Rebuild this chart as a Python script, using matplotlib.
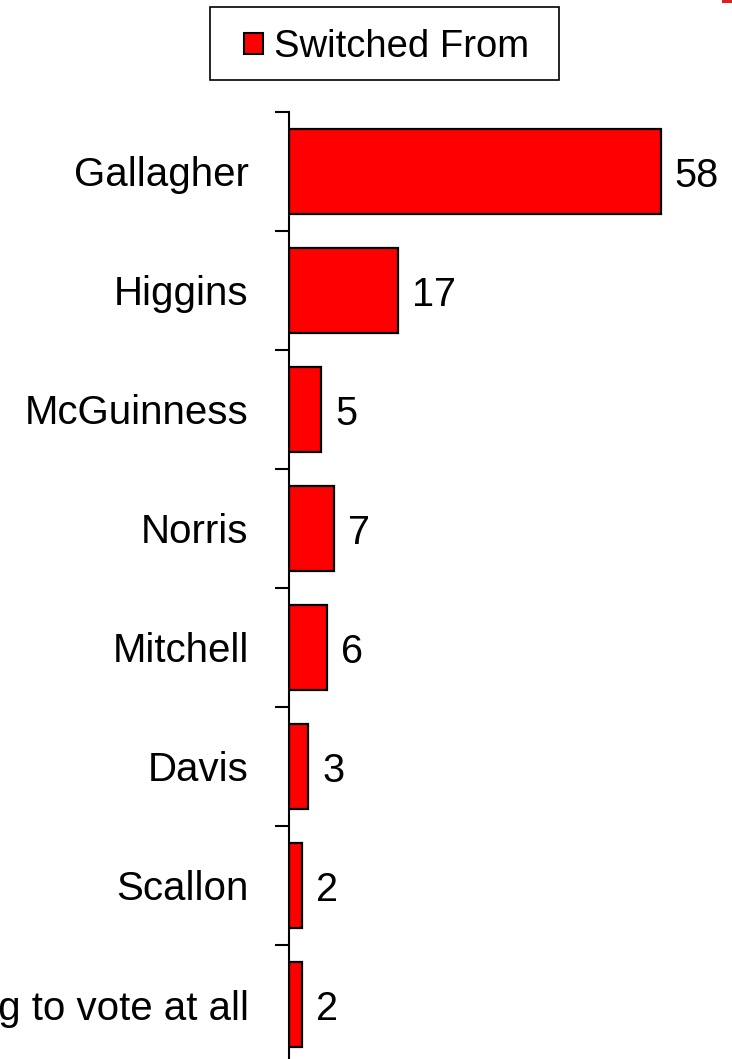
import matplotlib
matplotlib.use("Agg")
import matplotlib.pyplot as plt
from matplotlib.patches import Rectangle, Patch

plt.rcParams['font.family'] = ['Liberation Sans', 'DejaVu Sans']

categories = ["Gallagher", "Higgins", "McGuinness", "Norris", "Mitchell",
              "Davis", "Scallon", "Not going to vote at all"]
values = [58, 17, 5, 7, 6, 3, 2, 2]
series_name = "Switched From"

W, H = 732, 1059
fig = plt.figure(figsize=(W / 100, H / 100), dpi=100)

# axes placement (pixels -> figure fraction)
ax_left, ax_top, ax_bottom, ax_right = 289, 112, 1064, 731
ax = fig.add_axes([ax_left / W, 1 - ax_bottom / H,
                   (ax_right - ax_left) / W, (ax_bottom - ax_top) / H])

n = len(categories)
ypos = list(range(n))
ax.barh(ypos, values, height=0.72, color='#ff0000', edgecolor='black',
        linewidth=1.6, zorder=2)
ax.set_ylim(n - 0.5, -0.5)
ax.set_xlim(0, 69)

for y, v in zip(ypos, values):
    ax.annotate(str(v), xy=(v, y), xytext=(10, -3), textcoords='offset points',
                ha='left', va='center', fontsize=28.5, color='black')

ax.set_yticks(ypos)
ax.set_yticklabels(categories, fontsize=29)
ax.tick_params(axis='y', which='major', length=0, pad=29)
ax.set_yticks([i - 0.5 for i in range(n + 1)], minor=True)
ax.tick_params(axis='y', which='minor', length=10, width=1.5, direction='out')
ax.set_xticks([])
for s in ['top', 'right', 'bottom']:
    ax.spines[s].set_visible(False)
ax.spines['left'].set_linewidth(1.5)

# legend
fig.patches.append(Rectangle((210 / W, 1 - 80 / H), (559 - 210) / W, 73 / H,
                             transform=fig.transFigure, facecolor='white',
                             edgecolor='black', linewidth=1.2))
handle = Patch(facecolor='#ff0000', edgecolor='black', linewidth=1.5)
fig.legend([handle], [series_name], loc='center',
           bbox_to_anchor=((210 + 559) / 2 / W + 2 / W, 1 - 47 / H),
           frameon=False, fontsize=27.5, handlelength=0.5, handleheight=0.5,
           handletextpad=0.3, borderpad=0.2)

# small red mark at top-right corner
fig.patches.append(Rectangle((722 / W, 1 - 3 / H), 10 / W, 3 / H,
                             transform=fig.transFigure, facecolor='#e02020',
                             edgecolor='none'))

fig.savefig("out.png", dpi=100)
